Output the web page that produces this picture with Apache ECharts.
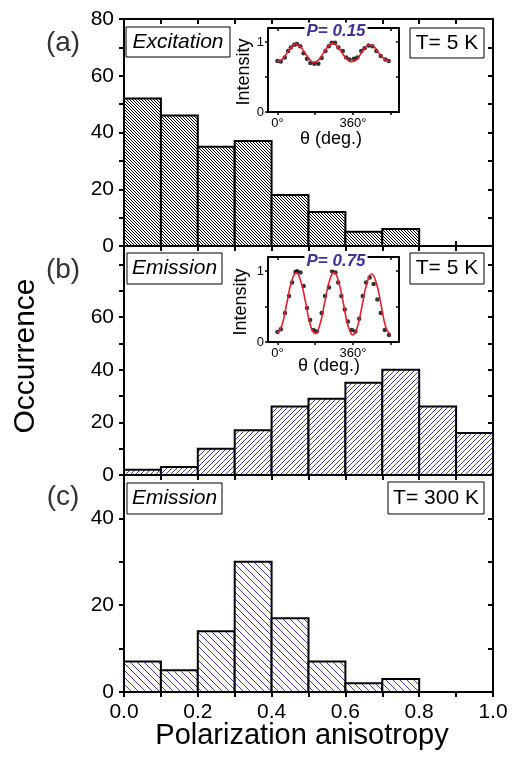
<!DOCTYPE html>
<html>
<head>
<meta charset="utf-8">
<script src="https://cdn.jsdelivr.net/npm/echarts@6/dist/echarts.min.js"></script>
<style>
html, body { margin: 0; padding: 0; background: #fff; }
#container { width: 515px; height: 760px; }
</style>
</head>
<body>
<div id="container"></div>
<script>
// histogram bins (polarization anisotropy)
var binStarts = [0.0, 0.1, 0.2, 0.3, 0.4, 0.5, 0.6, 0.7, 0.8, 0.9];
var binWidth = 0.1;
var excitation5K = [52, 46, 35, 37, 18, 12, 5, 6, 0, 0];
var emission5K = [2, 3, 10, 17, 26, 29, 35, 40, 26, 16];
var emission300K = [7, 5, 14, 30, 17, 7, 2, 3, 0, 0];

// inset (a), P = 0.15
var dotAngleA = [0, 16, 35, 51, 64, 80, 93, 109, 125, 141, 157, 176, 195, 211, 229, 245, 259, 275, 291, 312, 328, 344, 365, 381, 400, 416, 435, 453, 472, 493, 515, 531];
var dotValueA = [0.73, 0.72, 0.78, 0.87, 0.92, 0.96, 0.97, 0.94, 0.84, 0.76, 0.70, 0.69, 0.69, 0.77, 0.87, 0.94, 0.99, 0.99, 0.92, 0.87, 0.78, 0.75, 0.76, 0.78, 0.87, 0.91, 0.95, 0.94, 0.87, 0.80, 0.75, 0.73];
var fitAngleA = [0, 22, 45, 67, 85, 107, 130, 152, 172, 195, 217, 240, 262, 285, 307, 330, 352, 375, 397, 420, 442, 465, 487, 510, 535];
var fitValueA = [0.72, 0.75, 0.84, 0.93, 0.97, 0.94, 0.85, 0.76, 0.71, 0.74, 0.83, 0.93, 0.98, 0.94, 0.85, 0.76, 0.72, 0.74, 0.83, 0.92, 0.96, 0.92, 0.83, 0.76, 0.72];

// inset (b), P = 0.75
var dotAngleB = [0, 16, 36, 55, 70, 86, 94, 110, 125, 141, 156, 172, 188, 211, 227, 246, 261, 277, 290, 305, 321, 336, 355, 372, 390, 407, 423, 440, 459, 477, 493, 512, 532];
var dotValueB = [0.14, 0.18, 0.41, 0.65, 0.84, 0.99, 1.0, 0.98, 0.79, 0.48, 0.31, 0.17, 0.15, 0.41, 0.65, 0.77, 1.0, 0.98, 0.84, 0.65, 0.46, 0.29, 0.17, 0.15, 0.33, 0.65, 0.84, 0.91, 0.82, 0.60, 0.41, 0.17, 0.10];
var fitAngleB = [0, 22, 45, 67, 90, 112, 135, 157, 180, 202, 225, 247, 270, 292, 315, 337, 360, 382, 405, 427, 450, 472, 495, 517, 540];
var fitValueB = [0.12, 0.24, 0.55, 0.85, 0.98, 0.85, 0.55, 0.24, 0.12, 0.24, 0.55, 0.85, 0.98, 0.85, 0.54, 0.23, 0.10, 0.22, 0.53, 0.83, 0.96, 0.83, 0.52, 0.21, 0.10];

var FONT = "'Liberation Sans', Arial, sans-serif";
var hatchBlue = '#463c9c';

function zip(a, b) {
	return a.map(function (v, i) { return [v, b[i]]; });
}

function binData(counts) {
	return binStarts.map(function (x0, i) { return [x0, x0 + binWidth, counts[i]]; });
}

// diagonal hatch tile; size is a multiple of the line spacing so it tiles cleanly
function hatch(spacing, color, dir, lw) {
	var size = spacing * 8;
	var c = document.createElement('canvas');
	c.width = size; c.height = size;
	var ctx = c.getContext('2d');
	ctx.fillStyle = '#fff';
	ctx.fillRect(0, 0, size, size);
	ctx.strokeStyle = color;
	ctx.lineWidth = lw;
	ctx.beginPath();
	for (var k = -size; k <= 2 * size; k += spacing) {
		if (dir === '\\') {
			ctx.moveTo(k - size, -size); ctx.lineTo(k + 2 * size, 2 * size);
		} else {
			ctx.moveTo(k - size, 2 * size); ctx.lineTo(k + 2 * size, -size);
		}
	}
	ctx.stroke();
	return { type: 'pattern', image: c, repeat: 'repeat' };
}

function histRender(pattern) {
	return function (params, api) {
		var y = api.value(2);
		if (!y) return;
		var p0 = api.coord([api.value(0), y]);
		var p1 = api.coord([api.value(1), 0]);
		return {
			type: 'rect',
			shape: { x: p0[0], y: p0[1], width: p1[0] - p0[0], height: p1[1] - p0[1] },
			style: { fill: pattern, stroke: '#000', lineWidth: 2 }
		};
	};
}

var axisLine = { show: true, onZero: false, lineStyle: { color: '#000', width: 2 } };

function mainX(gridIndex, position, labels) {
	return {
		type: 'value', gridIndex: gridIndex, position: position,
		min: 0, max: 1, interval: 0.1,
		axisLine: axisLine,
		axisTick: { show: true, inside: !labels, length: 5, lineStyle: { color: '#000', width: 2 } },
		axisLabel: {
			show: !!labels, interval: 0, margin: 10, color: '#000', fontSize: 21, fontFamily: FONT,
			formatter: function (v) {
				var r = Math.round(v * 10);
				return r % 2 === 0 ? (r / 10).toFixed(1) : '';
			}
		},
		splitLine: { show: false }
	};
}

function mainY(gridIndex, position, max, labelCap) {
	return {
		type: 'value', gridIndex: gridIndex, position: position,
		min: 0, max: max, interval: 10,
		axisLine: axisLine,
		axisTick: { show: true, inside: position === 'right', length: 5, lineStyle: { color: '#000', width: 2 } },
		axisLabel: {
			show: position === 'left', margin: 10, color: '#000', fontSize: 21, fontFamily: FONT,
			formatter: function (v) {
				return (v % 20 === 0 && v <= labelCap) ? String(v) : '';
			}
		},
		splitLine: { show: false }
	};
}

function insetX(gridIndex, position) {
	return {
		type: 'value', gridIndex: gridIndex, position: position,
		min: -45, max: 580,
		axisLine: { show: true, onZero: false, lineStyle: { color: '#000', width: 2 } },
		axisTick: { show: true, inside: position === 'top', length: 3, customValues: [0, 180, 360, 540], lineStyle: { color: '#000', width: 1.5 } },
		axisLabel: {
			show: position === 'bottom', margin: 5, color: '#000', fontSize: 13, fontFamily: FONT,
			customValues: [0, 360],
			formatter: function (v) { return v + '°'; }
		},
		splitLine: { show: false }
	};
}

function insetY(gridIndex, position) {
	return {
		type: 'value', gridIndex: gridIndex, position: position,
		min: 0, max: 1.2,
		axisLine: { show: true, onZero: false, lineStyle: { color: '#000', width: 2 } },
		axisTick: { show: true, inside: position === 'right', length: 3, customValues: [0, 0.5, 1], lineStyle: { color: '#000', width: 1.5 } },
		axisLabel: {
			show: position === 'left', margin: 4, color: '#000', fontSize: 13, fontFamily: FONT,
			customValues: [0, 1]
		},
		splitLine: { show: false }
	};
}

function textBox(x, y, w, h, label, italic) {
	return [
		{ type: 'rect', z: 50, shape: { x: x, y: y, width: w, height: h }, style: { fill: '#fff', stroke: '#000', lineWidth: 1 } },
		{
			type: 'text', z: 51, x: x + w / 2, y: y + h / 2,
			style: { text: label, fill: '#000', font: (italic ? 'italic ' : '') + '21px ' + FONT, align: 'center', verticalAlign: 'middle' }
		}
	];
}

function plainText(x, y, label, size, extra) {
	var st = { text: label, fill: '#000', font: size + 'px ' + FONT, align: 'center', verticalAlign: 'middle' };
	extra = extra || {};
	for (var k in extra.style || {}) st[k] = extra.style[k];
	return { type: 'text', z: 60, x: x, y: y, rotation: extra.rotation || 0, style: st };
}

var dom = document.getElementById('container');
var myChart = echarts.init(dom, null, { renderer: 'canvas' });

var grids = [
	{ left: 124, top: 19, width: 369, height: 227 },
	{ left: 124, top: 246, width: 369, height: 229 },
	{ left: 124, top: 475, width: 369, height: 217 },
	{ left: 268, top: 28, width: 131, height: 84 },
	{ left: 268, top: 257, width: 131, height: 85 }
];
grids.forEach(function (g) { g.outerBoundsMode = 'none'; g.containLabel = false; });

var option = {
	animation: false,
	backgroundColor: '#fff',
	grid: grids,
	xAxis: [
		mainX(0, 'bottom', false), mainX(0, 'top', false),
		mainX(1, 'bottom', false), mainX(1, 'top', false),
		mainX(2, 'bottom', true), mainX(2, 'top', false),
		insetX(3, 'bottom'), insetX(3, 'top'),
		insetX(4, 'bottom'), insetX(4, 'top')
	],
	yAxis: [
		mainY(0, 'left', 80, 80), mainY(0, 'right', 80, 80),
		mainY(1, 'left', 87, 60), mainY(1, 'right', 87, 60),
		mainY(2, 'left', 50, 40), mainY(2, 'right', 50, 40),
		insetY(3, 'left'), insetY(3, 'right'),
		insetY(4, 'left'), insetY(4, 'right')
	],
	series: [
		{
			type: 'custom', xAxisIndex: 0, yAxisIndex: 0,
			renderItem: histRender(hatch(3, '#000', '\\', 1)),
			encode: { x: [0, 1], y: 2 }, data: binData(excitation5K)
		},
		{
			type: 'custom', xAxisIndex: 2, yAxisIndex: 2,
			renderItem: histRender(hatch(5, hatchBlue, '/', 1)),
			encode: { x: [0, 1], y: 2 }, data: binData(emission5K)
		},
		{
			type: 'custom', xAxisIndex: 4, yAxisIndex: 4,
			renderItem: histRender(hatch(7, hatchBlue, '\\', 1)),
			encode: { x: [0, 1], y: 2 }, data: binData(emission300K)
		},
		{
			type: 'scatter', xAxisIndex: 6, yAxisIndex: 6, z: 20,
			symbolSize: 4.5, itemStyle: { color: '#000' },
			data: zip(dotAngleA, dotValueA)
		},
		{
			type: 'line', xAxisIndex: 6, yAxisIndex: 6, z: 21, smooth: true, showSymbol: false,
			lineStyle: { color: '#e0202e', width: 1.6 },
			data: zip(fitAngleA, fitValueA)
		},
		{
			type: 'scatter', xAxisIndex: 8, yAxisIndex: 8, z: 20,
			symbolSize: 4.5, itemStyle: { color: '#000' },
			data: zip(dotAngleB, dotValueB)
		},
		{
			type: 'line', xAxisIndex: 8, yAxisIndex: 8, z: 21, smooth: true, showSymbol: false,
			lineStyle: { color: '#e0202e', width: 1.6 },
			data: zip(fitAngleB, fitValueB)
		}
	],
	graphic: [].concat(
		textBox(126, 27, 104, 30, 'Excitation', true),
		textBox(410, 28, 74, 30, 'T= 5 K', false),
		textBox(127, 253, 95, 31, 'Emission', true),
		textBox(410, 253, 74, 31, 'T= 5 K', false),
		textBox(127, 483, 95, 31, 'Emission', true),
		textBox(388, 482, 96, 32, 'T= 300 K', false),
		[
			plainText(63, 43, '(a)', 28, { style: { fill: '#333' } }),
			plainText(63, 270, '(b)', 28, { style: { fill: '#333' } }),
			plainText(63, 497, '(c)', 28, { style: { fill: '#333' } }),
			plainText(26, 356, 'Occurrence', 30, { rotation: Math.PI / 2 }),
			plainText(302, 736, 'Polarization anisotropy', 29),
			plainText(244, 72, 'Intensity', 18, { rotation: Math.PI / 2 }),
			plainText(241, 302, 'Intensity', 18, { rotation: Math.PI / 2 }),
			plainText(331, 139, 'θ (deg.)', 18),
			plainText(329, 366, 'θ (deg.)', 18),
			plainText(336, 31, 'P= 0.15', 17, { style: { fill: '#3d3399', font: 'italic bold 17px ' + FONT, backgroundColor: '#fff', padding: [0, 2] } }),
			plainText(336, 261, 'P= 0.75', 17, { style: { fill: '#3d3399', font: 'italic bold 17px ' + FONT, backgroundColor: '#fff', padding: [0, 2] } })
		]
	)
};

myChart.setOption(option);
</script>
</body>
</html>
